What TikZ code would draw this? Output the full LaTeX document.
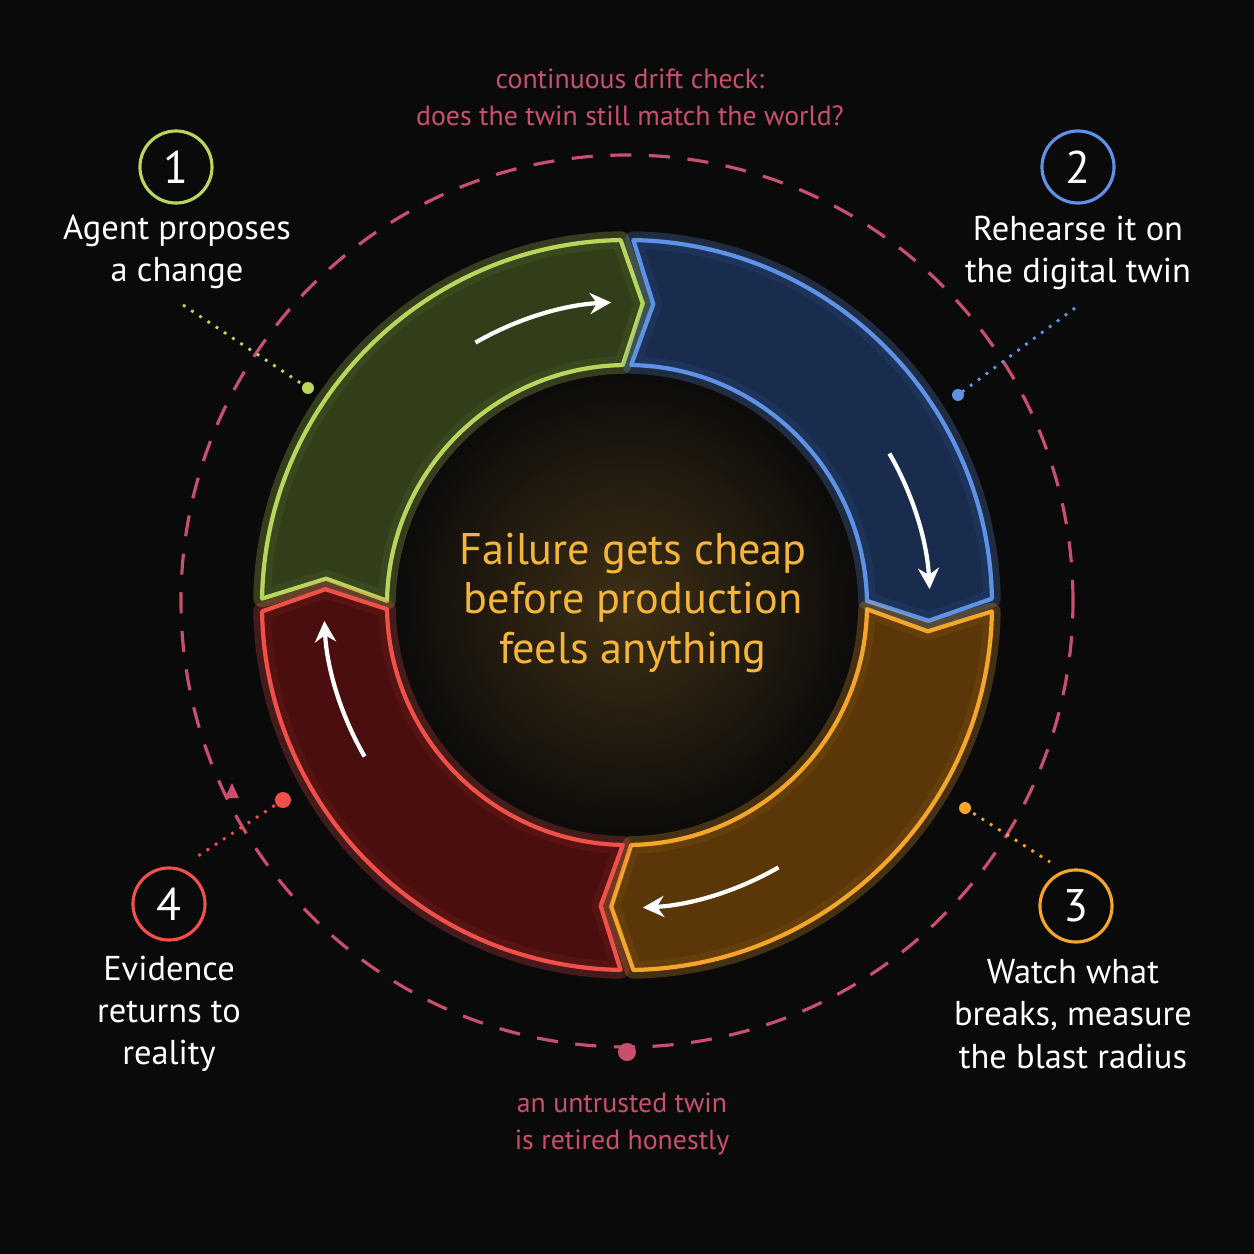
\documentclass[tikz,border=0pt]{standalone}
\usepackage{fontspec}
\setmainfont{PT Sans}
\usetikzlibrary{arrows.meta}
\definecolor{bg}{HTML}{0B0A0A}
\definecolor{pinkd}{HTML}{C8506E}
\definecolor{gstroke}{HTML}{B8D65C}\definecolor{gfill}{HTML}{3C4B1E}
\definecolor{bstroke}{HTML}{5E92E6}\definecolor{bfill}{HTML}{1D3560}
\definecolor{ostroke}{HTML}{F4A62A}\definecolor{ofill}{HTML}{6E4208}
\definecolor{rstroke}{HTML}{F0504A}\definecolor{rfill}{HTML}{5C1010}
\definecolor{ctext}{HTML}{F5B53A}
\tikzset{
  label/.style={text=white,align=center,font=\fontsize{9.8}{12}\selectfont},
  pinklabel/.style={text=pinkd,align=center,font=\fontsize{7.9}{10.5}\selectfont},
  step/.style={circle,draw=#1,line width=0.9pt,minimum size=0.72cm,inner sep=0pt,text=white,font=\fontsize{13}{14}\selectfont},
  leader/.style={draw=#1,dotted,line width=0.8pt},
  flow/.style={white,line width=1.2pt,-{Stealth[length=6pt,width=6pt]}}
}
\newcommand{\segpath}[1]{%
  (#1-1:365) arc[start angle=#1-1,end angle=#1-89,radius=365] -- (#1-93:302)
  -- (#1-89:240) arc[start angle=#1-89,end angle=#1-1,radius=240] -- (#1-5:302) -- cycle}
\newcommand{\segment}[3]{%
  \draw[#2,line width=5pt,opacity=0.25,line join=round] \segpath{#1};
  \fill[#3,opacity=0.8] \segpath{#1};
  \draw[#2,line width=1.2pt,line join=round] \segpath{#1};
  \draw[flow] (#1-60:303) arc[start angle=#1-60,end angle=#1-87,radius=303];}
\begin{document}
\begin{tikzpicture}[x=0.01cm,y=0.01cm]
  \fill[bg] (-627,-649) rectangle (627,605);
  \useasboundingbox (-627,-649) rectangle (627,605);
  % centre glow
  \shade[inner color=ctext!22!bg,outer color=bg] (0,0) circle (240);
  % drift check ring
  \draw[pinkd,line width=0.9pt,dash pattern=on 6pt off 5pt] (0,4) circle (446);
  \fill[pinkd] (-395,-178) -- (-402,-193) -- (-388,-193) -- cycle;
  \fill[pinkd] (0,-447) circle (9);
  \coordinate (bottomdot) at (0,-447);
  % the four steps
  \segment{180}{gstroke}{gfill}
  \segment{90}{bstroke}{bfill}
  \segment{0}{ostroke}{ofill}
  \segment{-90}{rstroke}{rfill}
  \node[text=ctext,align=center,font=\fontsize{12.6}{14.2}\selectfont] (centre) at (6,2) {Failure gets cheap\\before production\\feels anything};
  \node[pinklabel] (drift) at (3,508) {continuous drift check:\\does the twin still match the world?};
  \node[pinklabel] (retire) at (-5,-519) {an untrusted twin\\is retired honestly};
  \node[step=gstroke] (one) at (-451,438) {1};
  \node[step=bstroke] (two) at (451,438) {2};
  \node[step=ostroke] (three) at (449,-301) {3};
  \node[step=rstroke] (four) at (-458,-299) {4};
  \node[label] (propose) at (-450,353) {Agent proposes\\a change};
  \node[label] (rehearse) at (451,352) {Rehearse it on\\the digital twin};
  \node[label] (watch) at (446,-409) {Watch what\\breaks, measure\\the blast radius};
  \node[label] (evidence) at (-458,-409) {Evidence\\returns to\\reality};
  % leaders
  \fill[gstroke] (-319,217) circle (6) coordinate (gdot);
  \fill[bstroke] (331,210) circle (6) coordinate (bdot);
  \fill[ostroke] (338,-203) circle (6) coordinate (odot);
  \fill[rstroke] (-344,-195) circle (8) coordinate (rdot);
  \coordinate (gend) at (-444,300);
  \coordinate (bend) at (448,297);
  \coordinate (oend) at (423,-257);
  \coordinate (rend) at (-432,-253);
  \draw[leader=gstroke] (gend) -- (gdot);
  \draw[leader=bstroke] (bend) -- (bdot);
  \draw[leader=ostroke] (odot) -- (oend);
  \draw[leader=rstroke] (rdot) -- (rend);
\end{tikzpicture}
\end{document}
